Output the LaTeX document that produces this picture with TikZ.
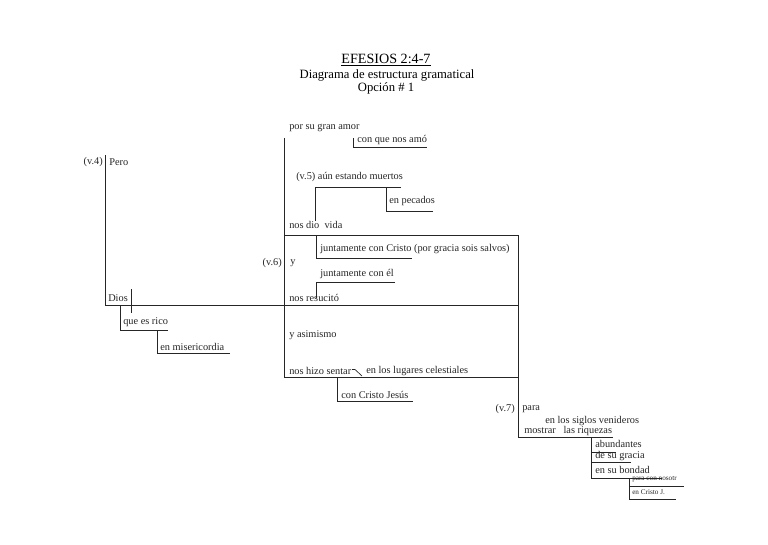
\documentclass[tikz,border=0pt]{standalone}
\usepackage{fontspec}
\setmainfont{Liberation Serif}
\begin{document}
\begin{tikzpicture}[x=0.75pt,y=-0.75pt,
  t/.style={font=\fontsize{7.75}{9}\selectfont, inner sep=0pt, anchor=west, text=black!85},
  tr/.style={t, anchor=east},
  tiny/.style={font=\fontsize{5.4}{6}\selectfont, inner sep=0pt, anchor=west, text=black!85},
  ttl/.style={font=\fontsize{9.5}{11}\selectfont, inner sep=0pt},
  ln/.style={line width=0.65pt, black!85}]
\useasboundingbox (0,0) rectangle (768,544);
% title
\node[ttl, font=\fontsize{10.6}{12}\selectfont] (title) at (386,60) {\underline{EFESIOS 2:4-7}};
\node[ttl] (sub) at (387,75) {Diagrama de estructura gramatical};
\node[ttl] (opt) at (386,88) {Opción \# 1};
% texts
\node[t] (amor) at (289,128) {por su gran amor};
\node[t] (amo) at (357,140) {con que nos amó};
\node[tr] (v4) at (103,162) {(v.4)};
\node[t] (pero) at (109,162) {Pero};
\node[t] (muertos) at (296,177) {(v.5) aún estando muertos};
\node[t] (pecados) at (389,201) {en pecados};
\node[t] (dio) at (289,225) {nos dio\ \ vida};
\node[t] (jcristo) at (320,249) {juntamente con Cristo (por gracia sois salvos)};
\node[tr] (v6) at (282,263) {(v.6)};
\node[t] (y) at (290,263) {y};
\node[t] (jel) at (320,274) {juntamente con él};
\node[t] (dios) at (108,298) {Dios};
\node[t] (resucito) at (289,298) {nos resucitó};
\node[t] (rico) at (123,322) {que es rico};
\node[t] (asimismo) at (289,335) {y asimismo};
\node[t] (miseri) at (160,347) {en misericordia};
\node[t] (sentar) at (289,371) {nos hizo sentar};
\node[t] (lugares) at (366,371) {en los lugares celestiales};
\node[t] (cjesus) at (341,395) {con Cristo Jesús};
\node[tr] (v7) at (515,409) {(v.7)};
\node[t] (para) at (522,409) {para};
\node[t] (siglos) at (545,421) {en los siglos venideros};
\node[t] (mostrar) at (524,431) {mostrar\ \ \ las riquezas};
\node[t] (abund) at (595,444) {abundantes};
\node[t] (gracia) at (595,456) {de su gracia};
\node[t] (bondad) at (595,470) {en su bondad};
\node[tiny] (nosotr) at (632,479.5) {para con nosotr};
\node[tiny] (cristoj) at (632,492) {en Cristo J.};
% lines
\draw[ln] (105,155) -- (105,305) -- (518,305);
\draw[ln] (131,289) -- (131,313);
\draw[ln] (120,305) -- (120,330) -- (168,330);
\draw[ln] (157,330) -- (157,353) -- (230,353);
\draw[ln] (284,138) -- (284,377) -- (518,377);
\draw[ln] (353,138) -- (353,147) -- (427,147);
\draw[ln] (315,221) -- (315,187) -- (401,187);
\draw[ln] (386,187) -- (386,211) -- (433,211);
\draw[ln] (284,235) -- (518,235) -- (518,437) -- (613,437);
\draw[ln] (316,235) -- (316,258) -- (412,258);
\draw[ln] (395,282) -- (316,282) -- (316,298);
\draw[ln] (337,377) -- (337,401) -- (413,401);
\draw[ln, line width=0.5pt] (352,369.5) -- (355,369.5) -- (362,376);
\draw[ln] (591,437) -- (591,478) -- (662,478);
\draw[ln] (591,452) -- (616,452);
\draw[ln] (591,462) -- (631,462);
\draw[ln] (629,478) -- (629,499) -- (676,499);
\draw[line width=0.45pt, black!85] (629,486) -- (684,486);
\end{tikzpicture}
\end{document}
